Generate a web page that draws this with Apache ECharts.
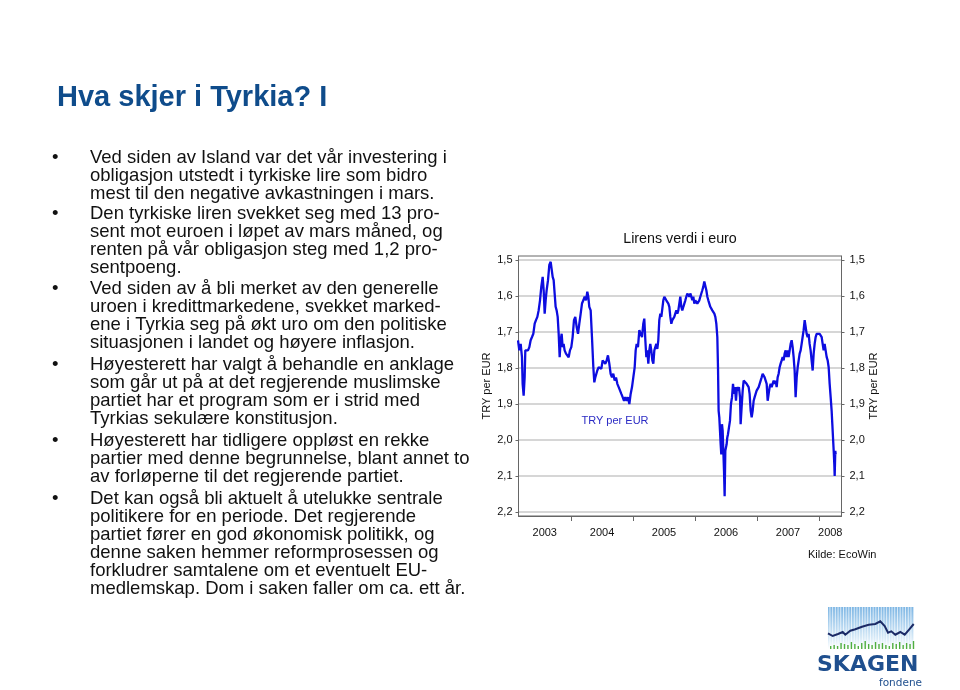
<!DOCTYPE html>
<html><head><meta charset="utf-8">
<script src="https://cdn.jsdelivr.net/npm/echarts@6/dist/echarts.min.js"></script>
<style>html,body{margin:0;padding:0;background:#fff}#c{width:960px;height:690px}</style>
</head><body><div id="c"></div>
<script>
// ---------- data ----------
const chartTitle = 'Lirens verdi i euro';
const seriesName = 'TRY per EUR';
const axisName = 'TRY per EUR';
const sourceNote = 'Kilde: EcoWin';
const yearLabels = [2003, 2004, 2005, 2006, 2007, 2008];
const yTicks = [1.5, 1.6, 1.7, 1.8, 1.9, 2.0, 2.1, 2.2];

// decimal year of each observation
const years = [
  2003.145, 2003.166, 2003.188, 2003.209, 2003.220, 2003.236, 2003.252, 2003.263, 2003.285, 2003.306,
  2003.328, 2003.349, 2003.371, 2003.392, 2003.414, 2003.435, 2003.457, 2003.478, 2003.500, 2003.521,
  2003.543, 2003.559, 2003.575, 2003.591, 2003.607, 2003.629, 2003.650, 2003.672, 2003.688, 2003.704,
  2003.720, 2003.736, 2003.752, 2003.768, 2003.785, 2003.801, 2003.817, 2003.833, 2003.849, 2003.865,
  2003.881, 2003.897, 2003.919, 2003.940, 2003.962, 2003.983, 2004.005, 2004.026, 2004.048, 2004.069,
  2004.091, 2004.113, 2004.134, 2004.156, 2004.177, 2004.199, 2004.220, 2004.242, 2004.263, 2004.279,
  2004.295, 2004.317, 2004.338, 2004.360, 2004.376, 2004.392, 2004.408, 2004.424, 2004.446, 2004.467,
  2004.489, 2004.510, 2004.532, 2004.553, 2004.575, 2004.596, 2004.618, 2004.639, 2004.661, 2004.682,
  2004.704, 2004.726, 2004.747, 2004.769, 2004.790,
  2004.812, 2004.833, 2004.855, 2004.876, 2004.898, 2004.919, 2004.941, 2004.962, 2004.984, 2005.005,
  2005.027, 2005.043, 2005.059, 2005.080, 2005.102, 2005.123, 2005.145, 2005.166, 2005.182, 2005.199,
  2005.215, 2005.231, 2005.247, 2005.263, 2005.279, 2005.295, 2005.312, 2005.328, 2005.344, 2005.360,
  2005.376, 2005.392, 2005.408, 2005.424, 2005.441, 2005.457, 2005.473, 2005.489, 2005.505, 2005.521,
  2005.537, 2005.553, 2005.570, 2005.586, 2005.602, 2005.618, 2005.634, 2005.650, 2005.666, 2005.682,
  2005.699, 2005.715, 2005.731, 2005.747, 2005.763, 2005.779, 2005.795, 2005.812, 2005.828, 2005.844,
  2005.860, 2005.876, 2005.892, 2005.908, 2005.924, 2005.941, 2005.957, 2005.973, 2005.989, 2006.005,
  2006.021, 2006.037, 2006.053, 2006.070, 2006.086, 2006.102, 2006.118, 2006.134, 2006.150, 2006.166,
  2006.183, 2006.199, 2006.215, 2006.231, 2006.247, 2006.263, 2006.279, 2006.295, 2006.312, 2006.328,
  2006.344, 2006.360, 2006.371, 2006.381, 2006.392, 2006.403, 2006.414, 2006.424, 2006.435, 2006.446,
  2006.457, 2006.468, 2006.478, 2006.489, 2006.500, 2006.510, 2006.521, 2006.532, 2006.548, 2006.564,
  2006.580, 2006.597,
  2006.613, 2006.629, 2006.645, 2006.661, 2006.677, 2006.693, 2006.709, 2006.726, 2006.736, 2006.752,
  2006.769, 2006.785, 2006.801, 2006.817, 2006.833, 2006.849, 2006.865, 2006.881, 2006.898, 2006.914,
  2006.930, 2006.946, 2006.962, 2006.978, 2006.994, 2007.010, 2007.027, 2007.043, 2007.059, 2007.075,
  2007.091, 2007.107, 2007.123, 2007.140, 2007.156, 2007.172, 2007.188, 2007.204, 2007.220, 2007.236,
  2007.252, 2007.269, 2007.285, 2007.301, 2007.317, 2007.333, 2007.349, 2007.365, 2007.381, 2007.398,
  2007.414, 2007.430, 2007.446, 2007.462, 2007.478, 2007.494, 2007.510, 2007.527, 2007.543, 2007.559,
  2007.575, 2007.591, 2007.607, 2007.623, 2007.640, 2007.656, 2007.672, 2007.688, 2007.704, 2007.720,
  2007.736, 2007.752, 2007.769, 2007.785, 2007.801, 2007.817, 2007.833, 2007.849, 2007.865, 2007.881,
  2007.898, 2007.914, 2007.930, 2007.946, 2007.962, 2007.978, 2007.994, 2008.011, 2008.027, 2008.043,
  2008.059, 2008.075, 2008.091, 2008.107, 2008.124, 2008.140, 2008.156, 2008.172, 2008.188, 2008.204,
  2008.215, 2008.226, 2008.237, 2008.247, 2008.253, 2008.263, 2008.269
];
// TRY per EUR
const rates = [
  1.723, 1.751, 1.733, 1.770, 1.844, 1.877, 1.826, 1.751, 1.747, 1.751,
  1.742, 1.723, 1.714, 1.705, 1.677, 1.667, 1.658, 1.640, 1.612, 1.574,
  1.547, 1.584, 1.649, 1.612, 1.584, 1.556, 1.514, 1.505, 1.509, 1.547,
  1.556, 1.593, 1.630, 1.640, 1.658, 1.705, 1.770, 1.723, 1.705, 1.742,
  1.733, 1.751, 1.760, 1.765, 1.770, 1.751, 1.742, 1.714, 1.667, 1.658,
  1.686, 1.705, 1.677, 1.649, 1.621, 1.612, 1.602, 1.612, 1.588, 1.602,
  1.630, 1.640, 1.714, 1.798, 1.840, 1.826, 1.826, 1.807, 1.798, 1.793,
  1.802, 1.779, 1.779, 1.788, 1.779, 1.765, 1.788, 1.816, 1.826, 1.816,
  1.835, 1.826, 1.844, 1.853, 1.849,
  1.872, 1.881, 1.891, 1.881, 1.891, 1.881, 1.900, 1.872, 1.853, 1.826,
  1.798, 1.751, 1.733, 1.742, 1.695, 1.705, 1.714, 1.677, 1.663, 1.723,
  1.770, 1.751, 1.788, 1.751, 1.733, 1.751, 1.779, 1.788, 1.751, 1.742,
  1.733, 1.747, 1.723, 1.667, 1.649, 1.658, 1.635, 1.612, 1.602, 1.607,
  1.612, 1.612, 1.621, 1.630, 1.658, 1.677, 1.667, 1.672, 1.658, 1.649,
  1.640, 1.649, 1.640, 1.621, 1.602, 1.630, 1.640, 1.630, 1.621, 1.612,
  1.602, 1.593, 1.598, 1.602, 1.593, 1.602, 1.612, 1.602, 1.621, 1.612,
  1.612, 1.621, 1.616, 1.612, 1.602, 1.593, 1.584, 1.574, 1.560, 1.565,
  1.584, 1.602, 1.612, 1.621, 1.630, 1.635, 1.640, 1.640, 1.649, 1.658,
  1.677, 1.714, 1.798, 1.919, 1.937, 1.974, 2.012, 2.040, 1.956, 1.974,
  2.030, 2.086, 2.156, 2.030, 2.030, 2.012, 1.993, 1.984, 1.965, 1.947,
  1.900, 1.881,
  1.844, 1.872, 1.853, 1.891, 1.853, 1.863, 1.853, 1.881, 1.956, 1.909,
  1.863, 1.835, 1.830, 1.835, 1.844, 1.844, 1.853, 1.872, 1.919, 1.937,
  1.919, 1.891, 1.881, 1.872, 1.863, 1.863, 1.853, 1.844, 1.835, 1.826,
  1.816, 1.812, 1.826, 1.821, 1.844, 1.891, 1.872, 1.853, 1.844, 1.853,
  1.844, 1.835, 1.844, 1.835, 1.853, 1.826, 1.816, 1.798, 1.788, 1.779,
  1.770, 1.779, 1.760, 1.751, 1.770, 1.751, 1.770, 1.751, 1.733, 1.723,
  1.742, 1.770, 1.807, 1.881, 1.826, 1.798, 1.779, 1.760, 1.751, 1.733,
  1.714, 1.695, 1.667, 1.686, 1.705, 1.714, 1.705, 1.733, 1.751, 1.779,
  1.807, 1.760, 1.733, 1.714, 1.705, 1.705, 1.700, 1.705, 1.700, 1.714,
  1.733, 1.751, 1.733, 1.751, 1.770, 1.779, 1.798, 1.844, 1.881, 1.919,
  1.956, 1.993, 2.030, 2.067, 2.100, 2.030, 2.040
];

const slideTitle = 'Hva skjer i Tyrkia? I';
const bullets = [
  ['Ved siden av Island var det vår investering i',
   'obligasjon utstedt i tyrkiske lire som bidro',
   'mest til den negative avkastningen i mars.'],
  ['Den tyrkiske liren svekket seg med 13 pro-',
   'sent mot euroen i løpet av mars måned, og',
   'renten på vår obligasjon steg med 1,2 pro-',
   'sentpoeng.'],
  ['Ved siden av å bli merket av den generelle',
   'uroen i kredittmarkedene, svekket marked-',
   'ene i Tyrkia seg på økt uro om den politiske',
   'situasjonen i landet og høyere inflasjon.'],
  ['Høyesterett har valgt å behandle en anklage',
   'som går ut på at det regjerende muslimske',
   'partiet har et program som er i strid med',
   'Tyrkias sekulære konstitusjon.'],
  ['Høyesterett har tidligere oppløst en rekke',
   'partier med denne begrunnelse, blant annet to',
   'av forløperne til det regjerende partiet.'],
  ['Det kan også bli aktuelt å utelukke sentrale',
   'politikere for en periode. Det regjerende',
   'partiet fører en god økonomisk politikk, og',
   'denne saken hemmer reformprosessen og',
   'forkludrer samtalene om et eventuelt EU-',
   'medlemskap. Dom i saken faller om ca. ett år.']
];
const logoName = 'SKAGEN';
const logoSub = 'fondene';

// ---------- layout ----------
const FONT = "'Liberation Sans', Arial, sans-serif";
const X_MIN = 2003.153, X_MAX = 2008.363;
const Y_MIN = 1.4889, Y_MAX = 2.2111;
const bulletBaselines = [164, 220, 295, 371, 447.5, 505];
const LINE_H = 18.1, BODY_FS = 18.5, TITLE_FS = 29;

const chart = echarts.init(document.getElementById('c'), null, {renderer: 'canvas'});
const fmt = v => v.toFixed(1).replace('.', ',');
const labelMids = yearLabels.map(y => (Math.max(y, X_MIN) + Math.min(y + 1, X_MAX)) / 2);

const graphics = [];
graphics.push({type: 'text', x: 57, y: 108 - 0.3465 * TITLE_FS,
  style: {text: slideTitle, font: 'bold ' + TITLE_FS + 'px ' + FONT, fill: '#0f4c8b', verticalAlign: 'middle'}});
bullets.forEach((lines, i) => {
  const top = bulletBaselines[i] - LINE_H / 2 - 0.3465 * BODY_FS;
  graphics.push({type: 'text', x: 52, y: top,
    style: {text: '•', font: BODY_FS + 'px ' + FONT, fill: '#111', lineHeight: LINE_H, verticalAlign: 'top'}});
  graphics.push({type: 'text', x: 90, y: top,
    style: {text: lines.join('\n'), font: BODY_FS + 'px ' + FONT, fill: '#111', lineHeight: LINE_H, verticalAlign: 'top'}});
});
graphics.push({type: 'text', x: 680, y: 244 - 0.3465 * 14.3,
  style: {text: chartTitle, font: '14.3px ' + FONT, fill: '#111', align: 'center', verticalAlign: 'middle'}});
graphics.push({type: 'text', x: 615, y: 425 - 0.3465 * 11,
  style: {text: seriesName, font: '11px ' + FONT, fill: '#2b2bc4', align: 'center', verticalAlign: 'middle'}});
graphics.push({type: 'text', x: 808, y: 559 - 0.3465 * 11,
  style: {text: sourceNote, font: '11px ' + FONT, fill: '#111', verticalAlign: 'middle'}});

// logo (decoration)
graphics.push({type: 'rect', shape: {x: 828, y: 607, width: 86, height: 42},
  style: {fill: new echarts.graphic.LinearGradient(0, 0, 0, 1, [
    {offset: 0, color: '#7db6e4'}, {offset: 0.75, color: '#d9ebf8'}, {offset: 1, color: '#ffffff'}])}});
for (let i = 0; i < 32; i++) {
  graphics.push({type: 'rect', shape: {x: 829.5 + i * 2.7, y: 607, width: 0.9, height: 42},
    style: {fill: 'rgba(255,255,255,0.75)'}});
}
const greenH = [3,4,3,6,5,4,7,5,3,6,8,5,4,7,5,6,4,3,6,5,7,4,6,5,8];
greenH.forEach((h, i) => {
  graphics.push({type: 'rect', shape: {x: 830 + i * 3.45, y: 649 - h, width: 1.4, height: h},
    style: {fill: '#4fae3f'}});
});
graphics.push({type: 'polyline', shape: {points: [[828,633.3],[832.7,636],[838,634],[842.7,632],[845.3,634.7],
  [850.3,630.7],[855.3,629.3],[862,626.7],[868.7,624.7],[875.3,624],[880.3,621.3],[884.7,626],[888,632.7],
  [891.3,631.3],[895.3,634.7],[900.3,632],[904.7,634.7],[909.3,629.3],[913.7,624]]},
  style: {stroke: '#1b2a66', lineWidth: 2, fill: null}});
graphics.push({type: 'text', x: 817, y: 665.5,
  style: {text: logoName, font: "bold 22px 'DejaVu Sans', sans-serif", fill: '#1f4f8e', verticalAlign: 'middle'}});
graphics.push({type: 'text', x: 879, y: 683,
  style: {text: logoSub, font: "10.5px 'DejaVu Sans', sans-serif", fill: '#1f4f8e', verticalAlign: 'middle'}});

const yAxisCommon = {
  type: 'value', inverse: true, min: Y_MIN, max: Y_MAX, splitNumber: 7,
  name: axisName, nameLocation: 'middle',
  nameTextStyle: {fontFamily: FONT, fontSize: 11, color: '#111'},
  axisLine: {show: true, lineStyle: {color: '#666', width: 1}},
  axisTick: {show: true, length: 3, lineStyle: {color: '#666'}, customValues: yTicks},
  axisLabel: {fontFamily: FONT, fontSize: 11, color: '#111', customValues: yTicks,
    formatter: v => fmt(v)}
};

chart.setOption({
  animation: false,
  backgroundColor: '#fff',
  grid: {left: 518.5, right: 118.5, top: 256, bottom: 174, show: true, borderColor: '#666', borderWidth: 1},
  xAxis: {
    type: 'value', min: X_MIN, max: X_MAX,
    axisLine: {show: true, onZero: false, lineStyle: {color: '#666'}},
    axisTick: {show: true, length: 5, lineStyle: {color: '#666'}, customValues: yearLabels.slice(1)},
    axisLabel: {fontFamily: FONT, fontSize: 11, color: '#111', margin: 11, customValues: labelMids,
      formatter: v => String(Math.floor(v))},
    splitLine: {show: false}
  },
  yAxis: [
    Object.assign({}, yAxisCommon, {position: 'left', nameGap: 26,
      axisLabel: Object.assign({}, yAxisCommon.axisLabel, {margin: 6}),
      splitLine: {show: true, lineStyle: {color: '#c8c8c8', width: 1.5}}}),
    Object.assign({}, yAxisCommon, {position: 'right', nameGap: 24,
      axisLabel: Object.assign({}, yAxisCommon.axisLabel, {margin: 8}),
      splitLine: {show: false}})
  ],
  series: [{
    name: seriesName, type: 'line', yAxisIndex: 0, showSymbol: false, symbol: 'none',
    data: years.map((y, i) => [y, rates[i]]),
    lineStyle: {color: '#0d0de0', width: 2.3}, z: 3
  }],
  graphic: {elements: graphics}
});
</script></body></html>
